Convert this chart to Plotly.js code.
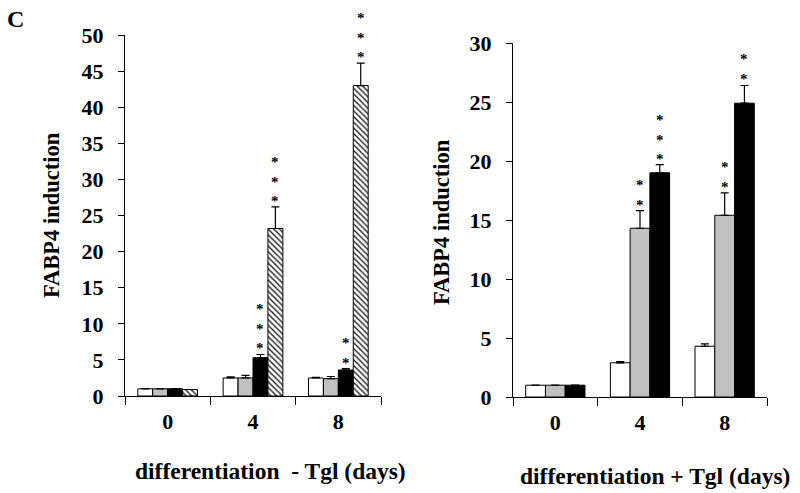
<!DOCTYPE html>
<html>
<head>
<meta charset="utf-8">
<script src="https://cdn.plot.ly/plotly-3.0.1.min.js"></script>
<style>html,body{margin:0;padding:0;background:#fff;}#chart{width:800px;height:493px;}</style>
</head>
<body>
<div id="chart"></div>
<script>
// ---- data ----
const days = ['0', '4', '8'];

// left panel: differentiation - Tgl
const leftWhite = [1.0, 2.5, 2.5];
const leftWhiteErr = [0, 0.15, 0.1];
const leftGrey = [1.0, 2.5, 2.4];
const leftGreyErr = [0, 0.35, 0.3];
const leftBlack = [1.0, 5.3, 3.6];
const leftBlackErr = [0, 0.45, 0.2];
const leftHatched = [0.9, 23.2, 43.0];
const leftHatchedErr = [0, 3.0, 3.1];
const leftBlackStars = ['', '***', '**'];
const leftHatchedStars = ['', '***', '***'];

// right panel: differentiation + Tgl
const rightWhite = [1.0, 2.9, 4.3];
const rightWhiteErr = [0, 0.1, 0.2];
const rightGrey = [1.0, 14.3, 15.4];
const rightGreyErr = [0, 1.5, 1.9];
const rightBlack = [1.0, 19.0, 24.9];
const rightBlackErr = [0, 0.7, 1.5];
const rightGreyStars = ['', '**', '**'];
const rightBlackStars = ['', '***', '**'];

const yTitle = 'FABP4 induction';
const leftXTitle = 'differentiation&nbsp;&nbsp;- Tgl (days)';
const rightXTitle = 'differentiation + Tgl (days)';
const panelLabel = 'C';

// ---- styling ----
const FONT = 'Liberation Serif, Times New Roman, serif';
const BARGAP = 0.3;
const W = 800, H = 493;

function bar(y, err, fill, xa, ya, pattern) {
  const t = {
    type: 'bar', x: days, y: y, xaxis: xa, yaxis: ya,
    marker: {color: fill, line: {color: '#000', width: 1}},
    error_y: {type: 'data', symmetric: false, array: err, arrayminus: err.map(() => 0),
              color: '#000', thickness: 1.2, width: 4},
    showlegend: false, hoverinfo: 'skip'
  };
  if (pattern) {
    t.marker.pattern = {shape: '\\', fgcolor: '#222', bgcolor: '#fff', size: 4, solidity: 0.35};
  }
  return t;
}

const traces = [
  bar(leftWhite, leftWhiteErr, '#ffffff', 'x', 'y'),
  bar(leftGrey, leftGreyErr, '#c0c0c0', 'x', 'y'),
  bar(leftBlack, leftBlackErr, '#000000', 'x', 'y'),
  bar(leftHatched, leftHatchedErr, '#ffffff', 'x', 'y', true),
  bar(rightWhite, rightWhiteErr, '#ffffff', 'x2', 'y2'),
  bar(rightGrey, rightGreyErr, '#c0c0c0', 'x2', 'y2'),
  bar(rightBlack, rightBlackErr, '#000000', 'x2', 'y2')
];

// asterisk annotations (one stacked column per bar), over the given bar of the group
const annotations = [];
function stars(marks, vals, errs, idx, n, xref, yref) {
  const bw = (1 - BARGAP) / n;
  marks.forEach((s, c) => {
    if (!s) return;
    const xc = c - (1 - BARGAP) / 2 + (idx + 0.5) * bw;
    annotations.push({
      x: xc, y: vals[c] + errs[c], xref: xref, yref: yref,
      text: s.split('').join('<br>'), showarrow: false, yanchor: 'bottom', xanchor: 'center',
      yshift: -4,
      font: {family: FONT, size: 15, color: '#000', weight: 'bold'}
    });
  });
}
stars(leftBlackStars, leftBlack, leftBlackErr, 2, 4, 'x', 'y');
stars(leftHatchedStars, leftHatched, leftHatchedErr, 3, 4, 'x', 'y');
stars(rightGreyStars, rightGrey, rightGreyErr, 1, 3, 'x2', 'y2');
stars(rightBlackStars, rightBlack, rightBlackErr, 2, 3, 'x2', 'y2');

const yTitleFont = {family: FONT, size: 22.5, color: '#000', weight: 'bold'};
const xTitleFont = {family: FONT, size: 23.5, color: '#000', weight: 'bold'};
annotations.push(
  {text: panelLabel, xref: 'paper', yref: 'paper', x: 5 / W, y: 1 - 4 / H, xanchor: 'left', yanchor: 'top',
   showarrow: false, font: {family: FONT, size: 24, color: '#000', weight: 'bold'}},
  {text: yTitle, xref: 'paper', yref: 'paper', x: 51 / W, y: 1 - 215 / H, textangle: -90,
   xanchor: 'center', yanchor: 'middle', showarrow: false, font: yTitleFont},
  {text: yTitle, xref: 'paper', yref: 'paper', x: 441 / W, y: 1 - 222 / H, textangle: -90,
   xanchor: 'center', yanchor: 'middle', showarrow: false, font: yTitleFont},
  {text: leftXTitle, xref: 'paper', yref: 'paper', x: 270 / W, y: 1 - 471 / H,
   xanchor: 'center', yanchor: 'middle', showarrow: false, font: xTitleFont},
  {text: rightXTitle, xref: 'paper', yref: 'paper', x: 655 / W, y: 1 - 476 / H,
   xanchor: 'center', yanchor: 'middle', showarrow: false, font: xTitleFont}
);

const tickFont = {family: FONT, size: 22, color: '#000', weight: 'bold'};
function xax(domain, anchor) {
  return {domain: domain, anchor: anchor, type: 'category', range: [-0.5, 2.5],
    tickson: 'boundaries', ticks: 'outside', ticklen: 8, tickwidth: 1, tickcolor: '#000',
    showline: true, linecolor: '#000', linewidth: 1, showgrid: false, zeroline: false,
    tickfont: tickFont, ticklabelstandoff: 6, fixedrange: true};
}
function yax(domain, anchor, max) {
  return {domain: domain, anchor: anchor, range: [0, max], dtick: 5, tick0: 0,
    ticks: 'outside', ticklen: 6, tickwidth: 1, tickcolor: '#000',
    showline: true, linecolor: '#000', linewidth: 1, showgrid: false, zeroline: false,
    tickfont: tickFont, ticklabelstandoff: 10, fixedrange: true};
}

const layout = {
  width: W, height: H,
  margin: {l: 0, r: 0, t: 0, b: 0, autoexpand: false},
  paper_bgcolor: '#fff', plot_bgcolor: '#fff',
  barmode: 'group', bargap: BARGAP, bargroupgap: 0,
  showlegend: false,
  xaxis: xax([125 / W, 381 / W], 'y'),
  yaxis: yax([1 - 396 / H, 1 - 35 / H], 'x', 50),
  xaxis2: xax([513 / W, 767 / W], 'y2'),
  yaxis2: yax([1 - 397 / H, 1 - 43 / H], 'x2', 30),
  annotations: annotations,
  font: {family: FONT, color: '#000'}
};

Plotly.newPlot('chart', traces, layout, {displayModeBar: false, staticPlot: true});
</script>
</body>
</html>
